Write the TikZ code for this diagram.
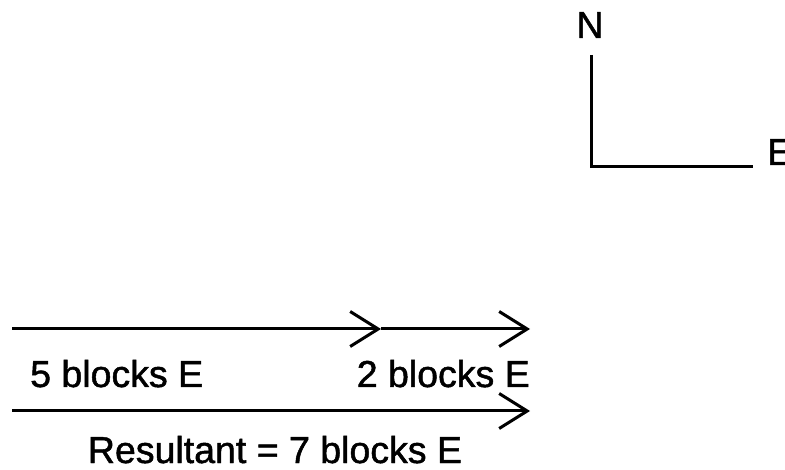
\documentclass[tikz,border=0pt]{standalone}
\usepackage{fontspec}
\setmainfont[FakeBold=1.3]{Liberation Sans}
\usetikzlibrary{arrows.meta}

\begin{document}
\begin{tikzpicture}[x=1pt,y=-1pt,
  vec/.style={line width=3pt,-{Straight Barb[length=28pt,width=35pt]}},
  axis/.style={line width=3pt},
  lbl/.style={inner sep=0pt,font=\fontsize{37.5}{42}\selectfont}]
\useasboundingbox (0,0) rectangle (785,470);

% compass
\coordinate (o) at (591,167);
\coordinate (nEnd) at (591,55);
\coordinate (eEnd) at (753,167);
\draw[axis] (nEnd) -- (o) -- (eEnd);
\node[lbl,anchor=base] (nLbl) at (590,38) {N};
\node[lbl,anchor=base west] (eLbl) at (767,165) {E};

% two successive displacements
\coordinate (a0) at (12,329);
\coordinate (a1) at (381,329);
\coordinate (a2) at (530,329);
\draw[vec] (a0) -- (a1);
\draw[vec] (a1) -- (a2);
\node[lbl,anchor=base west] (fiveLbl) at (30,387) {5 blocks E};
\node[lbl,anchor=base east] (twoLbl) at (530,387) {2 blocks E};

% resultant
\coordinate (r0) at (12,411);
\coordinate (r1) at (530,411);
\draw[vec] (r0) -- (r1);
\node[lbl,anchor=base] (resLbl) at (275,463) {Resultant = 7 blocks E};
\end{tikzpicture}
\end{document}
